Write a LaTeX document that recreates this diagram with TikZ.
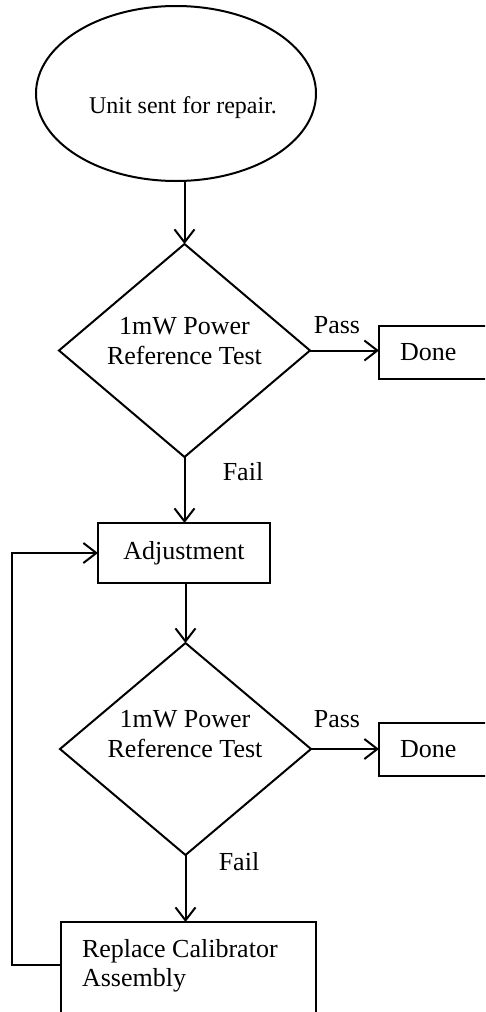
\documentclass[tikz,border=0pt]{standalone}
\usepackage{fontspec}
\setmainfont{Liberation Serif}
\usetikzlibrary{shapes.geometric,arrows.meta}
\begin{document}
\begin{tikzpicture}[x=1pt,y=-1pt,
  every node/.style={inner sep=0pt, outer sep=0pt},
  shp/.style={draw, line width=2pt},
  txt/.style={font=\fontsize{26}{30}\selectfont},
  dia/.style={shp, diamond, aspect=1.2, minimum width=251pt, minimum height=213pt},
  procbox/.style={shp, rectangle},
  arr/.style={line width=2pt, -{Straight Barb[length=13pt,width=20pt]}},
  ln/.style={line width=2pt}]
\useasboundingbox (0,0) rectangle (485,1012);
\clip (0,0) rectangle (485,1012);
% start
\node[shp, ellipse, minimum width=280pt, minimum height=175pt] (start) at (176,93.5) {};
\node[font=\fontsize{24}{28}\selectfont, anchor=base] (starttxt) at (183,113) {Unit sent for repair.};
% first test
\node[dia] (d1) at (184.5,350.5) {};
\node[txt, align=center] (d1txt) at (184.5,341) {1mW Power\\Reference Test};
\node[procbox, txt, anchor=west, minimum height=53pt, text width=130pt, inner xsep=21pt, align=left] (done1) at (379,352.5) {Done};
\node[txt, anchor=base] (pass1) at (337,333) {Pass};
\node[txt, anchor=base] (fail1) at (243,480) {Fail};
% adjustment
\node[procbox, txt, minimum width=172pt, minimum height=60pt] (adj) at (184,553) {Adjustment};
% second test
\node[dia, minimum height=212pt] (d2) at (185.5,749) {};
\node[txt, align=center] (d2txt) at (185,734) {1mW Power\\Reference Test};
\node[procbox, txt, anchor=west, minimum height=53pt, text width=130pt, inner xsep=21pt, align=left] (done2) at (379,749.5) {Done};
\node[txt, anchor=base] (pass2) at (337,727.7) {Pass};
\node[txt, anchor=base] (fail2) at (239,870.7) {Fail};
% replace
\node[procbox, anchor=north west, minimum width=255pt, minimum height=130pt] (rep) at (61,922) {};
\node[txt, anchor=north west, align=left, font=\fontsize{26}{29}\selectfont] (reptxt) at (82,939) {Replace Calibrator\\Assembly};
% connectors
\draw[arr] (d1.north |- start.south) -- (d1.north);
\draw[arr] (d1.east) -- (d1.east -| done1.west);
\draw[arr] (d1.south) -- (d1.south |- adj.north);
\draw[arr] (d2.north |- adj.south) -- (d2.north);
\draw[arr] (d2.east) -- (d2.east -| done2.west);
\draw[arr] (d2.south) -- (d2.south |- rep.north);
\draw[arr] (reptxt.west -| rep.west) -- ++(-49,0) |- (adj.west);
\end{tikzpicture}
\end{document}
